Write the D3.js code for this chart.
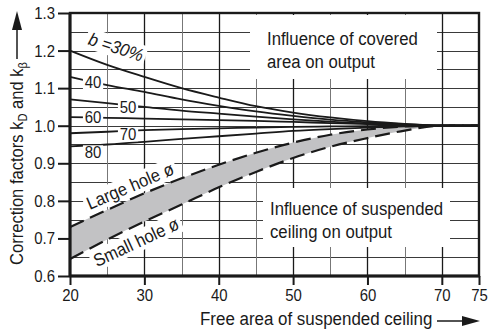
<!DOCTYPE html>
<html>
<head>
<meta charset="utf-8">
<script src="https://cdn.jsdelivr.net/npm/d3@7"></script>
<style>
  body { margin: 0; background: #fff; }
  svg text { font-family: "Liberation Sans", Arial, sans-serif; fill: #1a1a1a; }
</style>
</head>
<body>
<svg id="chart"></svg>
<script>
//--Data
const freeArea = [20, 25, 30, 35, 40, 45, 50, 55, 60, 65, 70, 75];
const coverB30 = [1.200, 1.162, 1.130, 1.100, 1.075, 1.052, 1.035, 1.022, 1.012, 1.005, 1.000, 1.000];
const coverB40 = [1.130, 1.108, 1.090, 1.070, 1.053, 1.038, 1.026, 1.016, 1.009, 1.004, 1.000, 1.000];
const coverB50 = [1.070, 1.060, 1.050, 1.040, 1.032, 1.024, 1.017, 1.011, 1.006, 1.003, 1.000, 1.000];
const coverB60 = [1.023, 1.021, 1.019, 1.017, 1.015, 1.013, 1.010, 1.007, 1.004, 1.002, 1.000, 1.000];
const coverB70 = [0.980, 0.984, 0.988, 0.991, 0.993, 0.995, 0.997, 0.998, 0.999, 1.000, 1.000, 1.000];
const coverB80 = [0.945, 0.950, 0.957, 0.965, 0.972, 0.979, 0.986, 0.991, 0.995, 0.998, 1.000, 1.000];
const largeHole = [0.730, 0.776, 0.820, 0.860, 0.896, 0.928, 0.955, 0.976, 0.990, 0.998, 1.000, 1.000];
const smallHole = [0.645, 0.697, 0.745, 0.790, 0.836, 0.877, 0.914, 0.944, 0.967, 0.987, 1.000, 1.000];
const coverLabels = ["40", "50", "60", "70", "80"];
const xTicks = [20, 30, 40, 50, 60, 70, 75];
const yTicks = [0.6, 0.7, 0.8, 0.9, 1.0, 1.1, 1.2, 1.3];

const coverSeries = [coverB30, coverB40, coverB50, coverB60, coverB70, coverB80];

//--Canvas
const canvas = { width: 489, height: 330, left: 70, right: 479, top: 13, bottom: 276, squeeze: 0.92, digits: 0.88 };

const x = d3.scaleLinear().domain([20, 75]).range([canvas.left, canvas.right]);
const y = d3.scaleLinear().domain([0.6, 1.3]).range([canvas.bottom, canvas.top]);

const root = d3.select("#chart")
  .attr("width", canvas.width)
  .attr("height", canvas.height);

//Condensed look: squeeze text along its own baseline
function condense(sel, f) {
  sel.each(function () {
    let w = this.getComputedTextLength();
    d3.select(this).attr("textLength", w * f).attr("lengthAdjust", "spacingAndGlyphs");
  });
}

//--Grid
const grid = root.append("g").attr("stroke", "#3a3a3a").attr("stroke-width", 1);
grid.selectAll("line.h")
  .data(d3.range(0.65, 1.3, 0.05))
  .enter().append("line")
  .attr("x1", canvas.left).attr("x2", canvas.right)
  .attr("y1", d => Math.round(y(d)) + 0.5).attr("y2", d => Math.round(y(d)) + 0.5);
grid.selectAll("line.v")
  .data(d3.range(25, 75, 5))
  .enter().append("line")
  .attr("stroke", d => d % 10 === 0 ? "#1a1a1a" : "#777")
  .attr("stroke-width", d => d % 10 === 0 ? 1.3 : 1)
  .attr("x1", d => Math.round(x(d)) + 0.5).attr("x2", d => Math.round(x(d)) + 0.5)
  .attr("y1", canvas.top).attr("y2", canvas.bottom);

//--Info boxes (white background cuts the grid)
const info = root.append("g");
info.append("rect").attr("x", 250).attr("y", canvas.top + 2).attr("width", 187).attr("height", 64).attr("fill", "#fff");
info.append("rect").attr("x", 263).attr("y", 188).attr("width", 187).attr("height", 59).attr("fill", "#fff");
const infoText = info.append("g").style("font-size", "18px");
infoText.append("text").attr("x", 267).attr("y", 45).text("Influence of covered");
infoText.append("text").attr("x", 267).attr("y", 68).text("area on output");
infoText.append("text").attr("x", 270).attr("y", 215).text("Influence of suspended");
infoText.append("text").attr("x", 270).attr("y", 238).text("ceiling on output");
condense(infoText.selectAll("text"), 0.93);

//--Rotated labels with white backgrounds
function rotLabel(g, cx, cy, angle, content, italic) {
  let lg = g.append("g").attr("transform", "translate(" + cx + "," + cy + ")rotate(" + angle + ")scale(" + canvas.squeeze + ",1)");
  let bg = lg.append("rect").attr("fill", "#fff");
  let t = lg.append("text")
    .attr("text-anchor", "middle")
    .attr("dy", "0.35em")
    .style("font-size", "18px")
    .style("font-style", italic ? "italic" : "normal")
    .text(content);
  let bb = t.node().getBBox();
  bg.attr("x", bb.x - 3).attr("y", bb.y).attr("width", bb.width + 6).attr("height", bb.height);
  return lg;
}
const slopeLabels = root.append("g");
rotLabel(slopeLabels, 116, 47, 18, "b =30%", true);
rotLabel(slopeLabels, 130, 186, -23, "Large hole ø", false);
rotLabel(slopeLabels, 136, 242, -25, "Small hole ø", false);

//--Band between hole curves
const bandData = freeArea.map((d, i) => ({ x: d, lo: smallHole[i], hi: largeHole[i] }));
root.append("path")
  .datum(bandData)
  .attr("fill", "#c2c2c4")
  .attr("d", d3.area().x(d => x(d.x)).y0(d => y(d.lo)).y1(d => y(d.hi)).curve(d3.curveMonotoneX));

const line = d3.line().x((d, i) => x(freeArea[i])).y(d => y(d)).curve(d3.curveMonotoneX);

root.append("g")
  .attr("fill", "none")
  .attr("stroke", "#1a1a1a")
  .attr("stroke-width", 2.2)
  .attr("stroke-dasharray", "15,7")
  .selectAll("path")
  .data([largeHole, smallHole])
  .enter().append("path")
  .attr("d", line);

root.append("g")
  .attr("fill", "none")
  .attr("stroke", "#1a1a1a")
  .attr("stroke-width", 1.8)
  .selectAll("path")
  .data(coverSeries)
  .enter().append("path")
  .attr("d", line);

//--Number labels sitting on the b curves
const numPos = [[93, 82], [128, 107], [93, 117], [128, 134], [93, 152]];
const nums = root.append("g").style("font-size", "17px");
coverLabels.forEach((lab, i) => {
  let g = nums.append("g").attr("transform", "translate(" + numPos[i][0] + "," + numPos[i][1] + ")scale(" + canvas.digits + ",1)");
  let bg = g.append("rect").attr("fill", "#fff");
  let t = g.append("text").attr("text-anchor", "middle").attr("dy", "0.36em").text(lab);
  let bb = t.node().getBBox();
  bg.attr("x", bb.x - 2).attr("y", bb.y + 2).attr("width", bb.width + 4).attr("height", bb.height - 4);
});

//--Axes
const yAxis = root.append("g")
  .attr("transform", "translate(" + canvas.left + ",0)")
  .call(d3.axisLeft(y).tickValues(yTicks).tickSize(12).tickPadding(3).tickFormat(d3.format(".1f")));
const xAxis = root.append("g")
  .attr("transform", "translate(0," + canvas.bottom + ")")
  .call(d3.axisBottom(x).tickValues(xTicks).tickSize(9).tickPadding(4).tickFormat(d3.format("d")));
[xAxis, yAxis].forEach(a => {
  a.select(".domain").remove();
  a.selectAll(".tick line").attr("stroke", "#1a1a1a").attr("stroke-width", 2);
  a.selectAll(".tick text").style("font-size", "17px").style("font-family", null).attr("fill", "#1a1a1a");
});
yAxis.selectAll(".tick text").attr("transform", "translate(-15,0)scale(" + canvas.digits + ",1)translate(15,0)");
xAxis.selectAll(".tick text").attr("transform", "scale(" + canvas.digits + ",1)");

//--Frame
root.append("rect")
  .attr("x", canvas.left).attr("y", canvas.top)
  .attr("width", canvas.right - canvas.left).attr("height", canvas.bottom - canvas.top)
  .attr("fill", "none").attr("stroke", "#1a1a1a").attr("stroke-width", 2.4);
root.append("line")
  .attr("x1", canvas.left).attr("x2", canvas.left)
  .attr("y1", canvas.top).attr("y2", canvas.bottom + 1)
  .attr("stroke", "#1a1a1a").attr("stroke-width", 3);
root.append("line")
  .attr("x1", canvas.left).attr("x2", canvas.right)
  .attr("y1", canvas.bottom).attr("y2", canvas.bottom)
  .attr("stroke", "#1a1a1a").attr("stroke-width", 3);

//--Axis titles with arrows
const xTitle = root.append("text")
  .attr("x", 200).attr("y", 325)
  .style("font-size", "18px")
  .text("Free area of suspended ceiling");
condense(xTitle, 0.94);
root.append("line").attr("x1", 437).attr("x2", 463).attr("y1", 321).attr("y2", 321)
  .attr("stroke", "#1a1a1a").attr("stroke-width", 1.5);
root.append("path").attr("d", "M462,316L480,321L462,326Z").attr("fill", "#1a1a1a");

const yTitle = root.append("text")
  .attr("transform", "translate(23,265)rotate(-90)scale(" + canvas.squeeze + ",1)")
  .style("font-size", "18px");
yTitle.append("tspan").text("Correction factors k");
yTitle.append("tspan").attr("dy", 4).style("font-size", "12px").text("D");
yTitle.append("tspan").attr("dy", -4).text(" and k");
yTitle.append("tspan").attr("dy", 4).style("font-size", "12px").text("β");
root.append("line").attr("x1", 17).attr("x2", 17).attr("y1", 59).attr("y2", 28)
  .attr("stroke", "#1a1a1a").attr("stroke-width", 1.5);
root.append("path").attr("d", "M12,30L17,11L22,30Z").attr("fill", "#1a1a1a");
</script>
</body>
</html>
